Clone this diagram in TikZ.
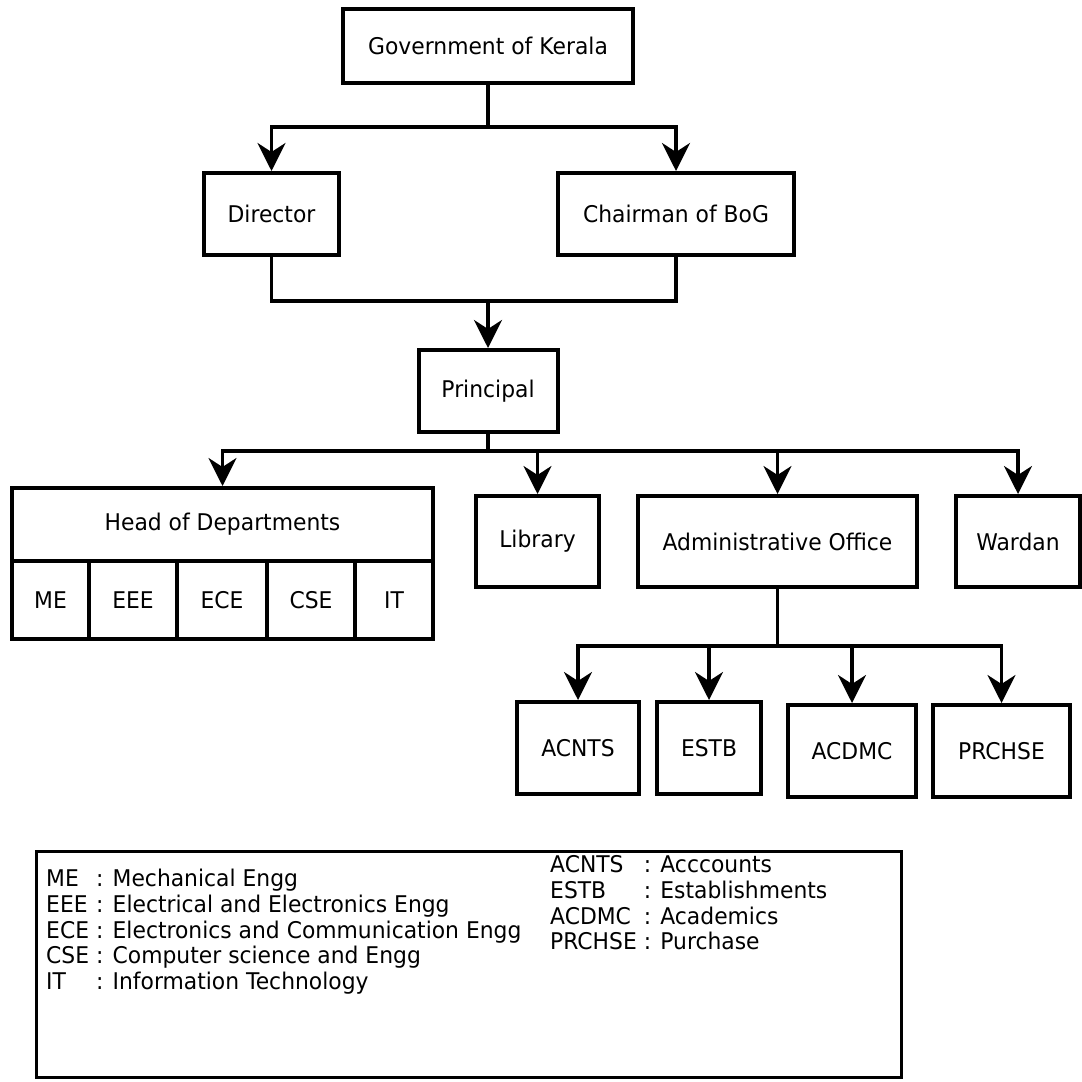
\documentclass[tikz,border=0pt]{standalone}
\usepackage{fontspec}
\setmainfont{DejaVu Sans}[FakeStretch=0.95]
\usetikzlibrary{arrows.meta}
\begin{document}
\begin{tikzpicture}[x=1pt,y=-1pt,
  box/.style={draw,line width=4pt,rectangle,inner sep=0pt,font=\fontsize{23}{27}\selectfont},
  conn/.style={line width=3.5pt},
  arr/.style={conn,-{Stealth[length=28pt,width=28pt,inset=9pt]}},
  legtxt/.style={anchor=west,inner sep=0pt,font=\fontsize{23}{25.7}\selectfont}]
\useasboundingbox (0,0) rectangle (1082,1082);
\fill[white] (0,0) rectangle (1082,1082);
% nodes
\node[box,minimum width=290pt,minimum height=74pt] (gov) at (488,46) {Government of Kerala};
\node[box,minimum width=135pt,minimum height=82pt] (dir) at (271.5,214) {Director};
\node[box,minimum width=236pt,minimum height=82pt] (chair) at (676,214) {Chairman of BoG};
\node[box,minimum width=139pt,minimum height=82pt] (prin) at (488,391) {Principal};
\node[box,minimum width=421pt,minimum height=73pt] (hod) at (222.5,524.5) {Head of Departments};
\node[box,minimum width=77pt,minimum height=78pt] (me) at (50.5,600) {ME};
\node[box,minimum width=88pt,minimum height=78pt] (eee) at (133,600) {EEE};
\node[box,minimum width=90pt,minimum height=78pt] (ece) at (222,600) {ECE};
\node[box,minimum width=88pt,minimum height=78pt] (cse) at (311,600) {CSE};
\node[box,minimum width=78pt,minimum height=78pt] (it) at (394,600) {IT};
\node[box,minimum width=123pt,minimum height=91pt] (lib) at (537.5,541.5) {Library};
\node[box,minimum width=279pt,minimum height=91pt] (adm) at (777.5,541.5) {Administrative Office};
\node[box,minimum width=124pt,minimum height=91pt] (war) at (1018,541.5) {Wardan};
\node[box,minimum width=122pt,minimum height=92pt] (acn) at (578,748) {ACNTS};
\node[box,minimum width=104pt,minimum height=92pt] (est) at (709,748) {ESTB};
\node[box,minimum width=128pt,minimum height=92pt] (acd) at (852,751) {ACDMC};
\node[box,minimum width=137pt,minimum height=92pt] (prc) at (1001.5,751) {PRCHSE};
% junctions
\coordinate (j1) at (488,127);
\coordinate (j2) at (488,301);
\coordinate (j3) at (488,451);
\coordinate (j4) at (777.5,646);
% connectors
\draw[conn] (gov.south) -- (j1);
\draw[arr] (j1) -| (dir.north);
\draw[arr] (j1) -| (chair.north);
\draw[conn] (dir.south) |- (j2) -| (chair.south);
\draw[arr] (j2) -- (prin.north);
\draw[conn] (prin.south) -- (j3);
\draw[arr] (j3) -| (hod.north);
\draw[arr] (j3) -| (lib.north);
\draw[arr] (j3) -| (adm.north);
\draw[arr] (j3) -| (war.north);
\draw[conn] (adm.south) -- (j4);
\draw[arr] (j4) -| (acn.north);
\draw[arr] (j4) -| (est.north);
\draw[arr] (j4) -| (acd.north);
\draw[arr] (j4) -| (prc.north);
% legend
\node[draw,line width=3pt,minimum width=865pt,minimum height=226pt,inner sep=0pt] (leg) at (468.5,964) {};
\node[legtxt] (legl) at (46,933) {\begin{tabular}{@{}l@{\ }l@{}}
ME & : Mechanical Engg\\
EEE & : Electrical and Electronics Engg\\
ECE & : Electronics and Communication Engg\\
CSE & : Computer science and Engg\\
IT & : Information Technology
\end{tabular}};
\node[legtxt] (legr) at (550,906) {\begin{tabular}{@{}l@{\ }l@{}}
ACNTS & : Acccounts\\
ESTB & : Establishments\\
ACDMC & : Academics\\
PRCHSE & : Purchase
\end{tabular}};
\end{tikzpicture}
\end{document}
